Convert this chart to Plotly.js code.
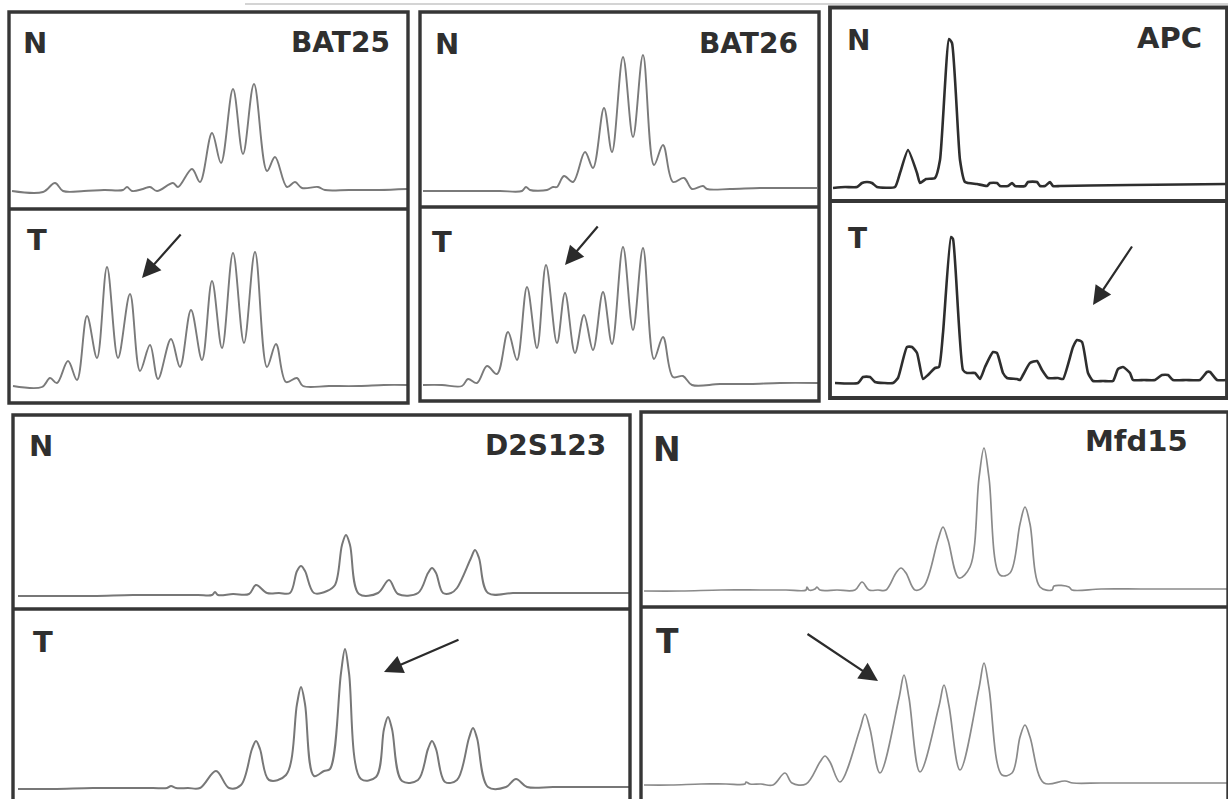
<!DOCTYPE html>
<html>
<head>
<meta charset="utf-8">
<script src="https://cdn.plot.ly/plotly-3.0.1.min.js"></script>
<style>html,body{margin:0;padding:0;background:#fff;}#chart{width:1228px;height:799px;}</style>
</head>
<body>
<div id="chart"></div>
<script>
// ---- Data (position, signal above baseline) ----
const markers = ["BAT25", "BAT26", "APC", "D2S123", "Mfd15"];
const sampleLabels = ["N", "T"];

const bat25N_pos = [3,34,46,54,75,95,114,118,123,134,141,148,164,169,183,191,203,212,224,234,245,258,266,278,286,293,309,316,340,370,398];
const bat25N_sig = [-1,-2,7,-1,-1,0,0,3,-1,1,3,-1,7,3,21,8,57,27,101,36,106,19,33,3,8,2,3,0,0,0,1];
const bat25T_pos = [4,33,41,48,59,68,78,88,98,109,121,131,141,149,162,171,182,193,203,213,224,235,246,258,267,277,288,294,320,350,375,399];
const bat25T_sig = [0,-1,8,3,25,6,70,28,119,28,92,15,41,7,47,19,76,26,105,38,133,43,134,19,42,4,8,0,0,0,1,1];

const bat26N_pos = [3,30,55,80,102,106,110,127,133,137,144,153,165,173,184,192,203,213,223,234,243,253,264,272,283,287,310,340,370,397];
const bat26N_sig = [0,0,0,0,0,4,1,1,4,4,15,9,39,23,83,39,134,54,136,26,46,9,13,2,5,2,2,3,3,3];
const bat26T_pos = [3,22,42,48,57,67,77,88,97,107,117,126,137,145,155,164,173,183,192,203,213,223,234,243,253,263,272,300,330,360,398];
const bat26T_sig = [0,0,-1,6,2,19,11,53,25,98,37,120,42,92,32,70,35,93,41,138,55,137,26,48,8,9,0,1,1,2,2];

const apcN_pos = [3,15,27,32,37,42,47,65,70,78,87,90,96,105,110,119,122,130,135,147,157,160,167,170,178,182,185,195,198,207,210,215,220,223,230,260,300,350,397];
const apcN_sig = [-1,0,0,4,5,4,0,0,14,37,14,4,8,9,27,148,144,27,5,3,1,4,4,1,1,4,1,1,5,5,1,1,5,1,1,1.5,2,2.5,3];
const apcT_pos = [5,28,33,40,45,54,63,68,77,82,87,93,98,105,109,113,121,123,133,137,145,150,155,163,167,173,177,187,190,193,200,207,212,218,228,233,243,247,252,258,263,273,283,288,293,300,303,314,325,332,338,343,356,370,377,380,387,398];
const apcT_sig = [-2,-2,4,4,-1,-2,-2,3,34,34,28,2,6,13,14,48,144,142,11,8,8,2,14,29,28,8,3,2,1,6,18,20,11,3,3,2,34,41,39,8,0,0,0,12,14,8,1,1,1,6,6,1,1,1,9,9,1,1];

const d2s123N_pos = [5,40,80,120,160,185,199,202,205,220,236,243,254,266,277,284,288,292,301,314,322,329,333,337,346,365,376,385,405,415,419,423,430,438,444,458,462,466,475,500,530,560,590,616];
const d2s123N_sig = [-2,-2,-2,-1,-1,-1,-1,2,-1,0,0,9,1,1,1,23,28,23,1,3,9,49,59,49,0,1,14,0,1,21,26,21,1,1,6,36,44,36,1,1,1,1,1,1];
const d2s123T_pos = [5,40,80,120,140,154,158,163,175,187,203,216,228,239,243,247,256,273,284,288,292,301,311,317,328,332,336,348,363,371,375,379,389,405,415,419,423,432,444,456,460,464,475,493,503,514,540,570,600,616];
const d2s123T_sig = [-1,-1,0,0,0,0,2,0,0,0,17,0,3,39,47,39,8,13,84,101,84,12,17,19,115,139,115,9,11,59,71,59,7,8,39,47,39,6,8,50,60,50,1,1,9,1,1,1,1,1];

const mfd15N_pos = [3,40,80,120,145,165,166,168,174,176,179,196,214,221,228,237,245,255,260,265,274,283,297,302,307,318,329,338,343,348,359,369,379,384,389,399,411,413,428,431,460,500,540,586];
const mfd15N_sig = [-1,-1,0,0,0,0,3,0,1,3,0,0,0,8,0,0,0,17,22,17,0,4,50,63,50,12,23,112,142,112,15,17,66,83,66,3,0,4,3,0,1,1,1,1];
const mfd15T_pos = [3,30,60,85,104,105,109,120,132,144,151,165,179,184,189,199,219,224,229,239,258,263,268,279,298,303,308,319,338,343,348,361,371,379,384,389,403,424,432,460,500,540,586];
const mfd15T_sig = [-1,-1,0,0,0,2,0,0,-1,11,1,0,22,28,22,2,55,70,55,11,86,109,86,12,78,99,78,14,96,121,96,9,11,47,59,47,1,3,1,1,1,1,1];

// ---- Layout (pixel geometry of the figure) ----
const W = 1228, H = 799;
const X = v => v / W;
const Y = v => 1 - v / H;

const panels = [
  {name: markers[0], L: 9,   R: 408,  top: 12,  div: 209, bot: 403, baseN: 190, baseT: 386,
   N: [bat25N_pos, bat25N_sig], T: [bat25T_pos, bat25T_sig], color: "#7a7a7a", width: 1.9, smooth: 1.0,
   lblN: [22, 43], lblT: [26, 240], title: [391, 42], fs: 29, tfs: 28,
   arrow: {tail: [182, 233], head: [142, 278]}},
  {name: markers[1], L: 420, R: 819,  top: 12,  div: 207, bot: 401, baseN: 191, baseT: 385,
   N: [bat26N_pos, bat26N_sig], T: [bat26T_pos, bat26T_sig], color: "#7a7a7a", width: 1.9, smooth: 1.0,
   lblN: [434, 44], lblT: [431, 242], title: [799, 43], fs: 29, tfs: 28,
   arrow: {tail: [599, 225], head: [565, 265]}},
  {name: markers[2], L: 830, R: 1227, top: 7.5, div: 201, bot: 398, baseN: 187, baseT: 381,
   N: [apcN_pos, apcN_sig], T: [apcT_pos, apcT_sig], color: "#2e2e2e", width: 2.6, smooth: 0.5,
   lblN: [846, 40], lblT: [847, 238], title: [1203, 38], fs: 28, tfs: 29,
   arrow: {tail: [1133, 245], head: [1093, 305]}},
  {name: markers[3], L: 13,  R: 630,  top: 415, div: 609, bot: 801, baseN: 594, baseT: 788,
   N: [d2s123N_pos, d2s123N_sig], T: [d2s123T_pos, d2s123T_sig], color: "#777777", width: 2.0, smooth: 1.0,
   lblN: [28, 446], lblT: [32, 642], title: [607, 445], fs: 29, tfs: 28,
   arrow: {tail: [460, 639], head: [384, 672]}},
  {name: markers[4], L: 641, R: 1228, top: 412, div: 607, bot: 801, baseN: 590, baseT: 784,
   N: [mfd15N_pos, mfd15N_sig], T: [mfd15T_pos, mfd15T_sig], color: "#8a8a8a", width: 1.7, smooth: 1.0,
   lblN: [652, 450], lblT: [655, 641], title: [1189, 441], fs: 33, tfs: 29,
   arrow: {tail: [806, 633], head: [878, 681]}}
];

const traces = [];
const layout = {
  width: W, height: H,
  margin: {l: 0, r: 0, t: 0, b: 0},
  paper_bgcolor: "#ffffff", plot_bgcolor: "rgba(0,0,0,0)",
  showlegend: false,
  shapes: [], annotations: []
};
const TXT = "#2f2f2f";
const FRAME = "#363636";
let k = 0;

panels.forEach(p => {
  const subs = [
    {lab: sampleLabels[0], t: p.top, b: p.div, base: p.baseN, d: p.N, lbl: p.lblN},
    {lab: sampleLabels[1], t: p.div, b: p.bot, base: p.baseT, d: p.T, lbl: p.lblT}
  ];
  subs.forEach(s => {
    k += 1;
    const xa = "xaxis" + (k === 1 ? "" : k), ya = "yaxis" + (k === 1 ? "" : k);
    const xr = "x" + (k === 1 ? "" : k), yr = "y" + (k === 1 ? "" : k);
    const axBase = {visible: false, showgrid: false, zeroline: false, fixedrange: true};
    layout[xa] = Object.assign({}, axBase, {domain: [X(p.L), X(p.R)], range: [0, p.R - p.L], anchor: yr});
    layout[ya] = Object.assign({}, axBase, {
      domain: [Math.max(0, Y(s.b)), Math.min(1, Y(s.t))],
      range: [s.base - Math.min(s.b, H), s.base - s.t], anchor: xr});
    traces.push({
      type: "scatter", mode: "lines", x: s.d[0], y: s.d[1], xaxis: xr, yaxis: yr,
      line: {color: p.color, width: p.width, shape: "spline", smoothing: p.smooth},
      hoverinfo: "skip"
    });
    layout.annotations.push({
      xref: "paper", yref: "paper", x: X(s.lbl[0]), y: Y(s.lbl[1]),
      xanchor: "left", yanchor: "middle", showarrow: false, borderpad: 0,
      text: "<b>" + s.lab + "</b>",
      font: {family: "DejaVu Sans, Arial, sans-serif", size: p.fs, color: TXT}
    });
  });
  // panel title
  layout.annotations.push({
    xref: "paper", yref: "paper", x: X(p.title[0]), y: Y(p.title[1]),
    xanchor: "right", yanchor: "middle", showarrow: false, borderpad: 0,
    text: "<b>" + p.name + "</b>",
    font: {family: "DejaVu Sans, Arial, sans-serif", size: p.tfs, color: TXT}
  });
  // arrow
  layout.annotations.push({
    xref: "paper", yref: "paper", x: X(p.arrow.head[0]), y: Y(p.arrow.head[1]),
    ax: p.arrow.tail[0] - p.arrow.head[0], ay: p.arrow.tail[1] - p.arrow.head[1],
    axref: "pixel", ayref: "pixel", text: "", showarrow: true,
    arrowhead: 2, arrowsize: 1.7, arrowwidth: 2.2, arrowcolor: "#2b2b2b", standoff: 0
  });
  // frame and divider
  const fw = p.name === "APC" ? 3.8 : 3.4;
  layout.shapes.push({type: "rect", xref: "paper", yref: "paper", layer: "above",
    x0: X(p.L), x1: X(p.R), y0: Y(p.bot), y1: Y(p.top),
    line: {color: FRAME, width: fw}, fillcolor: "rgba(0,0,0,0)"});
  layout.shapes.push({type: "line", xref: "paper", yref: "paper", layer: "above",
    x0: X(p.L), x1: X(p.R), y0: Y(p.div), y1: Y(p.div),
    line: {color: FRAME, width: fw}});
});

// faint scan line along the top edge
layout.shapes.push({type: "line", xref: "paper", yref: "paper", layer: "below",
  x0: X(245), x1: X(1228), y0: Y(4), y1: Y(4), line: {color: "#d4d4d4", width: 2}});

Plotly.newPlot("chart", traces, layout, {staticPlot: true, displayModeBar: false});
</script>
</body>
</html>
